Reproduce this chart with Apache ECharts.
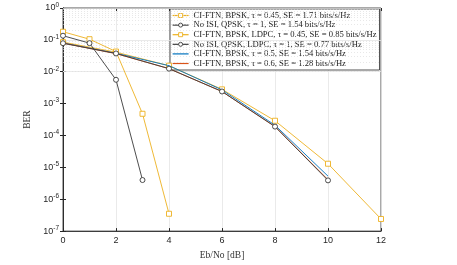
<!DOCTYPE html>
<html><head><meta charset="utf-8">
<script src="https://cdn.jsdelivr.net/npm/echarts@6/dist/echarts.min.js"></script>
<style>html,body{margin:0;padding:0;background:#fff}#c{width:457px;height:265px}</style>
</head><body><div id="c"></div>
<script>
var xTicks = [0, 2, 4, 6, 8, 10, 12];
var yTickExps = [0, -1, -2, -3, -4, -5, -6, -7];
var seriesNames = [
  'CI-FTN, BPSK, \u03c4 = 0.45, SE = 1.71 bits/s/Hz',
  'No ISI, QPSK, \u03c4 = 1, SE = 1.54 bits/s/Hz',
  'CI-FTN, BPSK, LDPC, \u03c4 = 0.45, SE = 0.85 bits/s/Hz',
  'No ISI, QPSK, LDPC, \u03c4 = 1, SE = 0.77 bits/s/Hz',
  'CI-FTN, BPSK, \u03c4 = 0.5, SE = 1.54 bits/s/Hz',
  'CI-FTN, BPSK, \u03c4 = 0.6, SE = 1.28 bits/s/Hz'
];
var ftn045X = [0, 2, 4, 6, 8, 10, 12];
var ftn045Y = [0.085, 0.041, 0.0155, 0.0028, 0.00029, 1.3e-5, 2.4e-7];
var noIsiX = [0, 2, 4, 6, 8, 10];
var noIsiY = [0.0786, 0.0375, 0.0125, 0.0024, 0.00019, 3.9e-6];
var ldpcFtnX = [0, 1, 2, 3, 4];
var ldpcFtnY = [0.18, 0.105, 0.043, 0.00048, 3.5e-7];
var ldpcNoIsiX = [0, 1, 2, 3];
var ldpcNoIsiY = [0.135, 0.079, 0.0056, 4e-6];
var ftn05X = [0, 2, 4, 6, 8, 10];
var ftn05Y = [0.08, 0.038, 0.0155, 0.0027, 0.00021, 5.3e-6];
var ftn06X = [0, 2, 4, 6, 8, 10];
var ftn06Y = [0.079, 0.037, 0.0125, 0.0024, 0.00019, 4.1e-6];

function pairs(xs, ys){ return xs.map(function(x,i){return [x, ys[i]];}); }

var minorLines = [];
for (var e = -7; e < 0; e++) {
  for (var m = 2; m <= 9; m++) minorLines.push({yAxis: m * Math.pow(10, e)});
}
var majorLines = yTickExps.map(function(e){return {yAxis: Math.pow(10, e)};});

var chart = echarts.init(document.getElementById('c'), null, {renderer:'canvas'});
var YEL = '#EDB120', BLK = '#3a3a3a', BLU = '#0072BD', RED = '#D95319';
var colors = [YEL, BLK, YEL, BLK, BLU, RED];
var serif = '"Liberation Serif","DejaVu Serif",serif';
var sans = '"Liberation Sans","DejaVu Sans",sans-serif';

function ser(name, data, color, symbol, z){
  return {
    name: name, type: 'line', data: data, z: z,
    symbol: symbol, symbolSize: 5,
    showSymbol: symbol !== 'none',
    lineStyle: {color: color, width: 0.9},
    itemStyle: {color: '#fff', borderColor: color, borderWidth: 0.9},
    emphasis: {disabled: true}, animation: false
  };
}
var s = [
  ser(seriesNames[0], pairs(ftn045X, ftn045Y), YEL, 'rect', 5),
  ser(seriesNames[1], pairs(noIsiX, noIsiY), BLK, 'circle', 8),
  ser(seriesNames[2], pairs(ldpcFtnX, ldpcFtnY), YEL, 'rect', 5),
  ser(seriesNames[3], pairs(ldpcNoIsiX, ldpcNoIsiY), BLK, 'circle', 8),
  ser(seriesNames[4], pairs(ftn05X, ftn05Y), BLU, 'none', 6),
  ser(seriesNames[5], pairs(ftn06X, ftn06Y), RED, 'none', 7)
];
s.push({
  type: 'line', data: [], silent: true, z: 1,
  markLine: {silent: true, symbol: 'none', label: {show: false}, animation: false,
    lineStyle: {color: '#d8d8d8', type: [1, 2], width: 0.6}, data: minorLines}
});
s.push({
  type: 'line', data: [], silent: true, z: 1,
  markLine: {silent: true, symbol: 'none', label: {show: false}, animation: false,
    lineStyle: {color: '#e4e4e4', type: 'solid', width: 0.8}, data: majorLines}
});

var legendData = seriesNames.map(function(n, i){
  var d = {name: n, lineStyle: {color: colors[i], width: 1.2}};
  if (i >= 4) d.itemStyle = {opacity: 0, borderWidth: 0};
  return d;
});

chart.setOption({
  animation: false,
  backgroundColor: '#fff',
  grid: {left: 63, right: 76, top: 8, bottom: 23, show: true, borderColor: '#262626', borderWidth: 0.8, backgroundColor: 'transparent'},
  legend: {
    orient: 'vertical', left: 170, top: 9,
    backgroundColor: '#fff', borderColor: '#262626', borderWidth: 0.8,
    padding: [2, 3, 2, 2], itemGap: 0.6, itemWidth: 16, itemHeight: 5,
    itemStyle: {borderWidth: 0.9},
    textStyle: {fontFamily: serif, fontSize: 8.6, color: '#222'},
    data: legendData,
    selectedMode: false
  },
  xAxis: [{
    type: 'value', min: 0, max: 12, interval: 2, position: 'bottom',
    axisLine: {show: true, lineStyle: {color: '#262626', width: 0.8}},
    axisTick: {show: true, inside: true, length: 3, lineStyle: {color: '#262626'}},
    splitLine: {show: true, lineStyle: {color: '#e4e4e4', width: 0.8}},
    axisLabel: {fontFamily: sans, fontSize: 9, color: '#262626', margin: 5},
    name: 'Eb/No [dB]', nameLocation: 'middle', nameGap: 13,
    nameTextStyle: {fontFamily: serif, fontSize: 9.5, color: '#333'}
  }, {
    type: 'value', min: 0, max: 12, interval: 2, position: 'top',
    axisLine: {show: true, lineStyle: {color: '#262626', width: 0.8}},
    axisTick: {show: true, inside: true, length: 3, lineStyle: {color: '#262626'}},
    axisLabel: {show: false}, splitLine: {show: false}
  }],
  yAxis: [{
    type: 'log', logBase: 10, min: 1e-7, max: 1, interval: 1,
    axisLine: {show: true, lineStyle: {color: '#262626', width: 0.8}},
    axisTick: {show: true, inside: true, length: 3, lineStyle: {color: '#262626'}},
    splitLine: {show: false},
    axisLabel: {
      fontFamily: sans, fontSize: 9, color: '#262626', margin: 4,
      formatter: function(v){ var e = Math.round(Math.log10(v)); return '10{sup|' + e + '}'; },
      rich: {sup: {fontSize: 6.5, verticalAlign: 'top', padding: [0,0,6,0], fontFamily: sans, color: '#262626'}}
    },
    name: 'BER', nameLocation: 'middle', nameGap: 27,
    nameTextStyle: {fontFamily: serif, fontSize: 9.5, color: '#333'}
  }, {
    type: 'log', logBase: 10, min: 1e-7, max: 1, interval: 1, position: 'right',
    axisLine: {show: true, lineStyle: {color: '#262626', width: 0.8}},
    axisTick: {show: true, inside: true, length: 3, lineStyle: {color: '#262626'}},
    axisLabel: {show: false}, splitLine: {show: false}
  }],
  series: s
});
</script></body></html>
